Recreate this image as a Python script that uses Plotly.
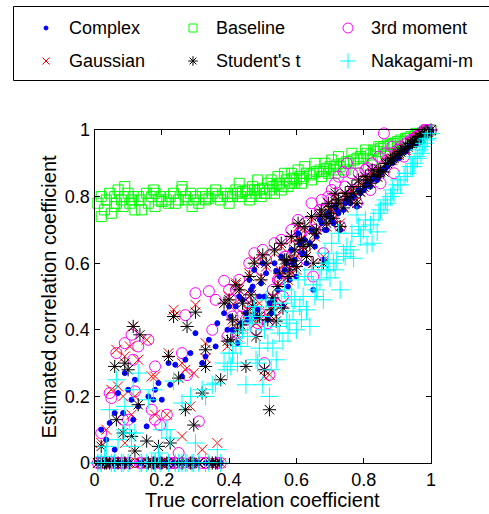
import plotly.graph_objects as go

x_true = [0.01, 0.02, 0.03, 0.035, 0.045, 0.05, 0.06, 0.065, 0.07, 0.08,
          0.085, 0.09, 0.10, 0.105, 0.11, 0.115, 0.12, 0.13, 0.135, 0.155,
          0.16, 0.17, 0.175, 0.18, 0.19, 0.195, 0.20, 0.215, 0.225, 0.235,
          0.24, 0.25, 0.26, 0.27, 0.275, 0.285, 0.295, 0.30, 0.31, 0.32,
          0.33, 0.34, 0.35, 0.365, 0.375, 0.385, 0.395,
          0.405, 0.41, 0.42, 0.425, 0.435, 0.44, 0.45, 0.455, 0.465, 0.47,
          0.48, 0.49, 0.50, 0.505, 0.515, 0.52, 0.53, 0.54, 0.55, 0.56,
          0.57, 0.58, 0.59, 0.60, 0.61, 0.62, 0.63, 0.64, 0.65, 0.66,
          0.67, 0.68, 0.69, 0.70, 0.71, 0.72, 0.73, 0.74, 0.75, 0.76,
          0.77, 0.78, 0.79, 0.80, 0.81, 0.82, 0.83, 0.84, 0.85, 0.86,
          0.87, 0.88, 0.89, 0.90, 0.91, 0.92, 0.93, 0.94, 0.95, 0.96,
          0.97, 0.975, 0.98, 0.99, 1.0,
          # second batch of trials
          0.02, 0.06, 0.09, 0.14, 0.18, 0.22, 0.26, 0.29, 0.33, 0.36,
          0.40, 0.43, 0.46, 0.475, 0.485, 0.495, 0.51, 0.525, 0.535, 0.545,
          0.555, 0.565, 0.575, 0.585, 0.595, 0.605, 0.615, 0.625, 0.645, 0.655,
          0.675, 0.685, 0.695, 0.705, 0.715, 0.725, 0.745, 0.765, 0.785, 0.805,
          0.825, 0.845, 0.865, 0.885, 0.905, 0.925, 0.945, 0.955, 0.965, 0.985]

complex_est = [0, 0.10, 0, 0.07, 0.12, 0, 0.15, 0, 0.21, 0,
               0.15, 0, 0.22, 0, 0.19, 0.13, 0.25, 0.17, 0, 0.11,
               0.20, 0, 0.19, 0, 0.24, 0, 0.19, 0, 0.235, 0,
               0.295, 0, 0, 0.31, 0, 0.33, 0, 0.39, 0, 0.30,
               0, 0.37, 0, 0.42, 0, 0.45, 0.40,
               0.44, 0.40, 0.47, 0.36, 0.42, 0.49, 0.45, 0.43, 0.52, 0.53,
               0.44, 0.50, 0.60, 0.50, 0.43, 0.48, 0.49, 0.577, 0.56, 0.47,
               0.60, 0.55, 0.60, 0.56, 0.66, 0.63, 0.60, 0.66, 0.52, 0.68,
               0.73, 0.61, 0.70, 0.74, 0.72, 0.76, 0.70, 0.76, 0.79, 0.78,
               0.80, 0.77, 0.81, 0.82, 0.84, 0.83, 0.86, 0.85, 0.87, 0.88,
               0.89, 0.905, 0.91, 0.92, 0.93, 0.94, 0.945, 0.955, 0.96, 0.97,
               0.975, 0.98, 0.985, 0.99, 1.0,
               0, 0.04, 0.27, 0, 0.22, 0.30, 0.26, 0, 0.32, 0.35,
               0.47, 0.50, 0.55, 0.58, 0.46, 0.54, 0.57, 0.45, 0.60, 0.52,
               0.62, 0.58, 0.53, 0.64, 0.61, 0.69, 0.63, 0.67, 0.70, 0.65,
               0.72, 0.70, 0.75, 0.73, 0.77, 0.75, 0.78, 0.80, 0.82, 0.83,
               0.85, 0.86, 0.885, 0.90, 0.915, 0.935, 0.955, 0.96, 0.97, 0.99]

gaussian_est = [0, 0.06, 0, 0.10, 0, 0.22, 0, 0.34, 0.23, 0,
                0.20, 0.06, 0, 0.35, 0.145, 0.41, 0.20, 0.31, 0, 0.37,
                0, 0.26, 0, 0.145, 0, 0, 0, 0.145, 0, 0.46,
                0.444, 0, 0.08, 0.28, 0, 0.17, 0.27, 0.475, 0, 0.04,
                0.315, 0, 0, 0.06, 0, 0.48, 0.35,
                0.47, 0.42, 0.54, 0.38, 0.41, 0.50, 0.44, 0.46, 0.505, 0.49,
                0.42, 0.48, 0.62, 0.26, 0.44, 0.265, 0.50, 0.44, 0.58, 0.48,
                0.60, 0.57, 0.61, 0.58, 0.67, 0.64, 0.63, 0.655, 0.60, 0.70,
                0.745, 0.62, 0.71, 0.76, 0.73, 0.77, 0.72, 0.77, 0.80, 0.79,
                0.81, 0.79, 0.815, 0.83, 0.85, 0.84, 0.86, 0.86, 0.88, 0.885,
                0.90, 0.91, 0.92, 0.93, 0.935, 0.945, 0.95, 0.96, 0.965, 0.975,
                0.98, 0.985, 0.99, 0.995, 1.0,
                0, 0.0, 0.32, 0.0, 0.26, 0.33, 0.30, 0.0, 0.36, 0.0,
                0.50, 0.53, 0.57, 0.61, 0.43, 0.56, 0.59, 0.47, 0.63, 0.54,
                0.65, 0.60, 0.55, 0.67, 0.63, 0.71, 0.66, 0.70, 0.73, 0.68,
                0.75, 0.73, 0.78, 0.76, 0.80, 0.78, 0.80, 0.82, 0.84, 0.85,
                0.87, 0.875, 0.895, 0.91, 0.925, 0.94, 0.96, 0.965, 0.975, 0.99]

baseline_est = [0.78, 0.80, 0.76, 0.79, 0.81, 0.75, 0.80, 0.78, 0.82, 0.79,
                0.77, 0.80, 0.81, 0.78, 0.79, 0.80, 0.76, 0.80, 0.79, 0.81,
                0.78, 0.80, 0.82, 0.77, 0.79, 0.80, 0.785, 0.79, 0.80, 0.81,
                0.78, 0.79, 0.82, 0.80, 0.79, 0.81, 0.79, 0.80, 0.78, 0.81,
                0.80, 0.795, 0.81, 0.80, 0.79, 0.81, 0.80,
                0.81, 0.80, 0.82, 0.81, 0.80, 0.815, 0.81, 0.82, 0.80, 0.83,
                0.81, 0.82, 0.825, 0.81, 0.84, 0.82, 0.83, 0.835, 0.84, 0.83,
                0.85, 0.84, 0.855, 0.85, 0.86, 0.855, 0.87, 0.865, 0.87, 0.875,
                0.88, 0.875, 0.885, 0.89, 0.88, 0.895, 0.89, 0.90, 0.905, 0.90,
                0.91, 0.915, 0.92, 0.915, 0.93, 0.925, 0.94, 0.935, 0.945, 0.95,
                0.955, 0.955, 0.96, 0.965, 0.97, 0.965, 0.975, 0.98, 0.98, 0.985,
                0.99, 0.99, 0.995, 0.995, 1.0,
                0.74, 0.77, 0.83, 0.76, 0.81, 0.78, 0.83, 0.77, 0.79, 0.82,
                0.78, 0.84, 0.79, 0.82, 0.85, 0.80, 0.81, 0.85, 0.81, 0.86,
                0.82, 0.87, 0.83, 0.87, 0.84, 0.88, 0.84, 0.89, 0.85, 0.90,
                0.86, 0.90, 0.87, 0.91, 0.87, 0.92, 0.88, 0.93, 0.90, 0.94,
                0.91, 0.95, 0.93, 0.96, 0.95, 0.975, 0.965, 0.99, 0.975, 1.0]

third_moment_est = [0, 0.09, 0, 0, 0.21, 0.195, 0, 0.33, 0, 0,
                    0.13, 0, 0.13, 0, 0.385, 0.31, 0.215, 0.35, 0, 0,
                    0.37, 0.16, 0, 0.13, 0, 0.114, 0, 0.145, 0, 0,
                    0, 0.03, 0, 0.444, 0.264, 0, 0, 0.51, 0.125, 0,
                    0, 0.516, 0.40, 0, 0, 0.547, 0.38,
                    0.49, 0.44, 0.52, 0.39, 0.44, 0.47, 0.43, 0.48, 0.50, 0.46,
                    0.40, 0.45, 0.64, 0.30, 0.42, 0.265, 0.52, 0.46, 0.55, 0.50,
                    0.62, 0.59, 0.63, 0.60, 0.69, 0.66, 0.61, 0.68, 0.56, 0.72,
                    0.76, 0.63, 0.73, 0.79, 0.75, 0.79, 0.71, 0.874, 0.90, 0.80,
                    0.82, 0.78, 0.83, 0.85, 0.886, 0.82, 0.88, 0.87, 0.84, 0.99,
                    0.91, 0.93, 0.87, 0.94, 0.95, 0.92, 0.96, 0.97, 0.975, 0.98,
                    0.99, 0.995, 1.0, 1.0, 1.0,
                    0, 0.0, 0.36, 0.0, 0.29, 0.0, 0.33, 0.0, 0.0, 0.49,
                    0.52, 0.55, 0.60, 0.63, 0.42, 0.58, 0.61, 0.49, 0.66, 0.55,
                    0.67, 0.62, 0.57, 0.70, 0.65, 0.73, 0.69, 0.72, 0.78, 0.70,
                    0.79, 0.76, 0.80, 0.82, 0.84, 0.86, 0.83, 0.87, 0.87, 0.88,
                    0.90, 0.92, 0.93, 0.95, 0.94, 0.96, 0.97, 0.98, 0.985, 1.0]

student_t_est = [0, 0.05, 0, 0, 0, 0, 0.29, 0.13, 0, 0,
                 0.09, 0, 0.28, 0, 0.08, 0.41, 0.036, 0.175, 0.385, 0.066,
                 0, 0, 0, 0, 0.05, 0, 0, 0, 0.06, 0.44,
                 0, 0.255, 0, 0.16, 0.41, 0, 0.114, 0.453, 0, 0.21,
                 0.29, 0, 0, 0, 0.25, 0.48, 0.366,
                 0.37, 0.43, 0.535, 0.40, 0.415, 0.48, 0.29, 0.45, 0.505, 0.47,
                 0.38, 0.44, 0.625, 0.28, 0.43, 0.16, 0.496, 0.426, 0.57, 0.465,
                 0.61, 0.58, 0.607, 0.59, 0.667, 0.65, 0.62, 0.655, 0.60, 0.70,
                 0.745, 0.60, 0.72, 0.75, 0.735, 0.78, 0.71, 0.766, 0.80, 0.79,
                 0.81, 0.78, 0.814, 0.83, 0.85, 0.84, 0.865, 0.86, 0.875, 0.874,
                 0.90, 0.91, 0.915, 0.925, 0.935, 0.94, 0.95, 0.96, 0.965, 0.97,
                 0.976, 0.985, 0.99, 0.995, 1.0,
                 0, 0.0, 0.30, 0.0, 0.0, 0.32, 0.0, 0.0, 0.34, 0.0,
                 0.49, 0.52, 0.56, 0.60, 0.44, 0.55, 0.60, 0.46, 0.64, 0.53,
                 0.66, 0.61, 0.56, 0.68, 0.64, 0.72, 0.67, 0.71, 0.74, 0.69,
                 0.76, 0.74, 0.78, 0.77, 0.81, 0.79, 0.81, 0.83, 0.85, 0.86,
                 0.88, 0.88, 0.90, 0.915, 0.93, 0.945, 0.96, 0.97, 0.98, 0.995]

nakagami_est = [0, 0, 0.02, 0.05, 0.16, 0, 0, 0.25, 0.07, 0,
                0, 0.10, 0, 0.09, 0.05, 0.22, 0.09, 0.27, 0, 0,
                0.19, 0, 0.22, 0, 0.03, 0, 0.10, 0.10, 0.075, 0.246,
                0, 0, 0, 0, 0, 0.20, 0, 0.06, 0, 0.22,
                0, 0, 0.235, 0.04, 0, 0.30, 0.28,
                0.29, 0.33, 0.36, 0.30, 0.35, 0.40, 0.235, 0.38, 0.42, 0.44,
                0.31, 0.345, 0.235, 0.40, 0.36, 0.20, 0.345, 0.31, 0.39, 0.366,
                0.43, 0.42, 0.456, 0.40, 0.47, 0.50, 0.46, 0.41, 0.535, 0.52,
                0.55, 0.49, 0.58, 0.556, 0.60, 0.61, 0.52, 0.63, 0.65, 0.64,
                0.615, 0.745, 0.68, 0.70, 0.655, 0.715, 0.73, 0.694, 0.76, 0.775,
                0.78, 0.80, 0.81, 0.835, 0.835, 0.86, 0.87, 0.89, 0.90, 0.915,
                0.93, 0.95, 0.96, 0.975, 0.99,
                0.0, 0.0, 0.17, 0.0, 0.0, 0.0, 0.18, 0.0, 0.20, 0.24,
                0.33, 0.39, 0.43, 0.47, 0.30, 0.44, 0.49, 0.28, 0.47, 0.41,
                0.48, 0.52, 0.39, 0.50, 0.49, 0.55, 0.43, 0.56, 0.58, 0.50,
                0.59, 0.63, 0.60, 0.66, 0.58, 0.69, 0.62, 0.69, 0.71, 0.73,
                0.66, 0.75, 0.79, 0.82, 0.85, 0.87, 0.89, 0.92, 0.94, 0.97]

tick_vals = [0, 0.2, 0.4, 0.6, 0.8, 1]
tick_text = ["0", "0.2", "0.4", "0.6", "0.8", "1"]

W, H = 489, 514
FONT = "Liberation Sans, Arial, Helvetica, sans-serif"

# plot box in pixels
X0P, X1P = 94.5, 431.0
YTOP, YBOT = 130.0, 463.0
LEG_H = 88.0  # height of the legend strip (px from top)


def pfx(px):
    return px / W


def pfy(py):
    return (H - py) / H


styles = {
    "Complex": dict(y=complex_est, symbol="circle", color="#0000ff", size=5, lsize=4, pos=(46, 28)),
    "Gaussian": dict(y=gaussian_est, symbol="x-thin-open", color="#ff0000", size=10, lsize=7, pos=(46, 61)),
    "Baseline": dict(y=baseline_est, symbol="square-open", color="#00ff00", size=10, lsize=8, pos=(193, 28)),
    "Student's t": dict(y=student_t_est, symbol="asterisk-open", color="#000000", size=11, lsize=8, pos=(193, 61)),
    "3rd moment": dict(y=third_moment_est, symbol="circle-open", color="#ff00ff", size=11, lsize=10, pos=(348, 28)),
    "Nakagami-m": dict(y=nakagami_est, symbol="cross-thin-open", color="#00ffff", size=13, lsize=11, pos=(348, 61)),
}
draw_order = ["Baseline", "3rd moment", "Gaussian", "Complex", "Student's t", "Nakagami-m"]

fig = go.Figure()
for name in draw_order:
    s = styles[name]
    fig.add_trace(go.Scatter(
        x=x_true, y=s["y"], mode="markers", name=name, showlegend=False,
        cliponaxis=False, xaxis="x", yaxis="y",
        marker=dict(symbol=s["symbol"], size=s["size"], color=s["color"],
                    line=dict(color=s["color"], width=1))))

# manual legend: markers on a hidden pixel-scaled strip axis, text as annotations
for name, s in styles.items():
    px, py = s["pos"]
    fig.add_trace(go.Scatter(
        x=[px], y=[py], mode="markers", showlegend=False, hoverinfo="skip",
        cliponaxis=False, xaxis="x2", yaxis="y2",
        marker=dict(symbol=s["symbol"], size=s["lsize"], color=s["color"],
                    line=dict(color=s["color"], width=1))))
    fig.add_annotation(x=pfx(px + 21), y=pfy(py), xref="paper", yref="paper", text=name,
                       showarrow=False, xanchor="left", yanchor="middle",
                       font=dict(family=FONT, size=18, color="black"))

fig.add_shape(type="rect", xref="paper", yref="paper",
              x0=pfx(13.5), x1=pfx(500), y0=pfy(80.5), y1=pfy(6.5),
              line=dict(color="black", width=1), fillcolor="rgba(0,0,0,0)")

axis_common = dict(
    range=[0, 1], tickvals=tick_vals, ticktext=tick_text,
    showline=True, mirror="ticks", linecolor="black", linewidth=1,
    ticks="inside", ticklen=5, tickcolor="black", tickwidth=1,
    showgrid=False, zeroline=False, automargin=False,
    tickfont=dict(family=FONT, size=18, color="black"),
)
fig.update_layout(
    width=W, height=H, autosize=False,
    margin=dict(l=0, r=0, t=0, b=0, pad=0),
    paper_bgcolor="white", plot_bgcolor="rgba(0,0,0,0)",
    xaxis=dict(domain=[X0P / W, X1P / W], anchor="y", **axis_common),
    yaxis=dict(domain=[(H - YBOT) / H, (H - YTOP) / H], anchor="x", **axis_common),
    xaxis2=dict(domain=[0, 1], range=[0, W], visible=False, anchor="y2",
                fixedrange=True, automargin=False),
    yaxis2=dict(domain=[pfy(LEG_H), 1], range=[LEG_H, 0], visible=False, anchor="x2",
                fixedrange=True, automargin=False),
)
fig.add_annotation(x=pfx((X0P + X1P) / 2), y=pfy(500), xref="paper", yref="paper",
                   text="True correlation coefficient", showarrow=False,
                   xanchor="center", yanchor="middle",
                   font=dict(family=FONT, size=20, color="black"))
fig.add_annotation(x=pfx(48), y=pfy((YTOP + YBOT) / 2), xref="paper", yref="paper",
                   text="Estimated correlation coefficient", showarrow=False,
                   textangle=-90, xanchor="center", yanchor="middle",
                   font=dict(family=FONT, size=20, color="black"))

fig.write_html("out.html",
               config={"displayModeBar": False},
               post_script="document.body.style.margin='0';document.body.style.padding='0';"
                           "document.body.style.overflow='hidden';")
